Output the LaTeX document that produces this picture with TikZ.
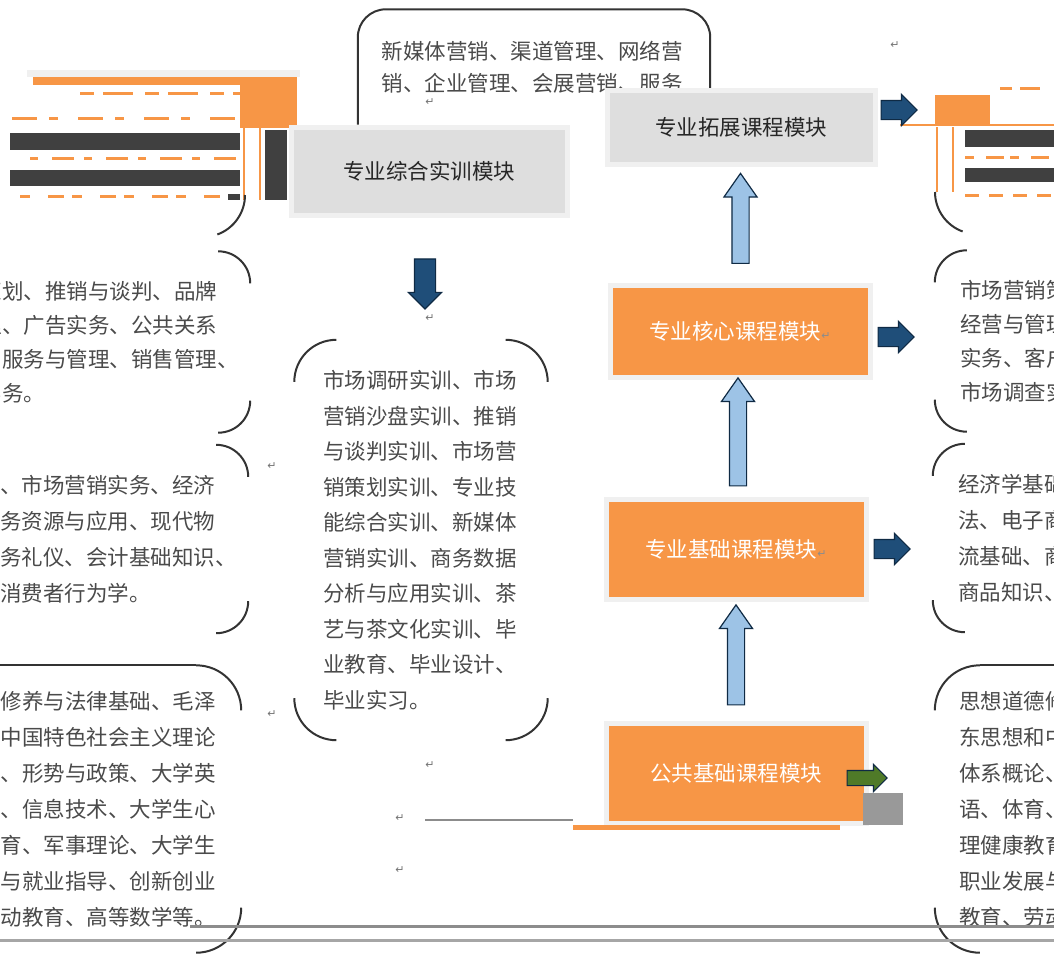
\documentclass[tikz,border=0pt]{standalone}
\usepackage{fontspec}
\setmainfont{Noto Sans CJK SC}
\newfontfamily\markfont{DejaVu Sans}
\usepackage{tikz}
\usetikzlibrary{shapes.arrows, positioning, calc, shadows}
\definecolor{modOrange}{HTML}{F79646}
\definecolor{modFrame}{HTML}{F0F0F0}
\definecolor{modShadow}{HTML}{D9A784}
\definecolor{modGrey}{HTML}{DEDEDE}
\definecolor{modNavy}{HTML}{1F4E79}
\definecolor{modNavyEdge}{HTML}{0F2A44}
\definecolor{modSky}{HTML}{9DC3E6}
\definecolor{modOlive}{HTML}{4F7A28}
\definecolor{modBar}{HTML}{404040}
\definecolor{modInk}{HTML}{4A4A4A}
\tikzset{
  mod/box/.style      = {draw=modFrame, line width=5pt, align=center, inner sep=0pt,
                         font=\fontsize{21.5}{26}\selectfont},
  mod/course/.style   = {mod/box, fill=modOrange, text=white, minimum width=260pt,
                         minimum height=98pt,
                         drop shadow={shadow xshift=3pt, shadow yshift=-3pt, fill=modShadow, opacity=1}},
  mod/practice/.style = {mod/box, fill=modGrey, text=black!85},
  mod/list/.style     = {align=left, inner sep=0pt, text=modInk,
                         font=\fontsize{21.5}{35.5}\selectfont},
  mod/frame/.style    = {line width=2pt, draw=black!80},
  mod/up/.style       = {single arrow, shape border rotate=90, draw=modNavyEdge, fill=modSky,
                         line width=1.2pt, inner sep=8pt, minimum width=32pt,
                         single arrow head extend=8pt, single arrow tip angle=70},
  mod/push/.style     = {single arrow, draw=modNavyEdge, fill=modNavy, line width=1.2pt,
                         inner sep=9pt, minimum width=30pt, minimum height=36pt,
                         single arrow head extend=6pt, single arrow tip angle=90},
  mod/para/.style     = {font=\markfont\fontsize{11}{11}\selectfont, text=black!55, inner sep=0pt},
}
\newcommand\modcorners[2]{%
  \draw[mod/frame] ([yshift=-#2]#1.north west) arc[start angle=180, end angle=90, radius=#2];
  \draw[mod/frame] ([xshift=-#2]#1.north east) arc[start angle=90, end angle=0, radius=#2];
  \draw[mod/frame] ([yshift=#2]#1.south east) arc[start angle=0, end angle=-90, radius=#2];
  \draw[mod/frame] ([xshift=#2]#1.south west) arc[start angle=270, end angle=180, radius=#2];
}
\newcommand\pmark{{\color{black!45}\markfont\fontsize{11}{11}\selectfont ↵}}

\begin{document}
\begin{tikzpicture}[x=1pt, y=-1pt]
  \useasboundingbox (0,0) rectangle (1054,954);
  \clip (0,0) rectangle (1054,954);

  % garbled blocks at the top corners
  \fill[modFrame] (27,70) rectangle (300,77);
  \fill[modOrange] (33,77) rectangle (297,85);
  \fill[modOrange] (240,77) rectangle (297,128);
  \fill[modBar] (10,133) rectangle (240,150);
  \fill[modBar] (10,170) rectangle (240,186);
  \fill[modBar] (265,130) rectangle (287,200);
  \fill[modBar] (228,194) rectangle (240,200);
  \draw[modOrange, line width=2pt] (244,128) -- (244,200) (260,128) -- (260,200);
  \draw[modOrange, line width=3pt, dash pattern=on 14pt off 9pt on 30pt off 12pt] (80,93) -- (240,93);
  \draw[modOrange, line width=3pt, dash pattern=on 25pt off 12pt on 9pt off 20pt] (12,118) -- (240,118);
  \draw[modOrange, line width=3pt, dash pattern=on 8pt off 14pt on 22pt off 10pt] (30,158) -- (240,158);
  \draw[modOrange, line width=3pt, dash pattern=on 10pt off 18pt on 16pt off 8pt] (20,196) -- (220,196);
  \draw[mod/frame] (245,195) arc[start angle=0, end angle=-70, radius=42pt];
  \fill[modOrange] (935,95) rectangle (990,125);
  \draw[modOrange, line width=2pt] (900,125) -- (1054,125);
  \draw[modOrange, line width=2pt] (937,127) -- (937,192) (953,127) -- (953,192);
  \fill[modBar] (965,130) rectangle (1054,147);
  \fill[modBar] (965,168) rectangle (1054,182);
  \draw[modOrange, line width=3pt, dash pattern=on 12pt off 8pt on 20pt off 14pt] (1000,88) -- (1054,88);
  \draw[modOrange, line width=3pt, dash pattern=on 9pt off 12pt on 18pt off 6pt] (965,157) -- (1054,157);
  \draw[modOrange, line width=3pt, dash pattern=on 14pt off 10pt] (965,195) -- (1054,195);
  \draw[mod/frame] (935,192) arc[start angle=180, end angle=250, radius=42pt];

  % extension courses, top
  \node[mod/list, minimum width=352pt, minimum height=115pt, text width=305pt,
        font=\fontsize{21.5}{32}\selectfont] (topnote) at (534,67)
       {新媒体营销、渠道管理、网络营\\销、企业管理、会展营销、服务};
  \draw[mod/frame, rounded corners=28pt] (topnote.south west) |- (topnote.north east) -- (topnote.south east);

  % module column
  \node[mod/practice, minimum width=268pt, minimum height=74pt] (tuozhan) at (741,127) {专业拓展课程模块};
  \node[mod/course, minimum height=92pt] (hexin) at (740,331) {专业核心课程模块\pmark};
  \node[mod/course, minimum height=100pt] (jichu) at (736,549) {专业基础课程模块\pmark};
  \node[mod/course, minimum height=100pt] (gonggong) at (736,773) {公共基础课程模块};
  \node[mod/practice, minimum width=276pt, minimum height=88pt] (zonghe) at (429,171) {专业综合实训模块};

  % practice list
  \node[mod/list, minimum width=253pt, minimum height=400pt, text width=196pt] (shixun) at (421,540)
       {市场调研实训、市场\\营销沙盘实训、推销\\与谈判实训、市场营\\销策划实训、专业技\\能综合实训、新媒体\\
        营销实训、商务数据\\分析与应用实训、茶\\艺与茶文化实训、毕\\业教育、毕业设计、\\毕业实习。};
  \modcorners{shixun}{42pt}

  % side lists, core courses
  \node[mod/list, minimum width=380pt, minimum height=181pt, text width=330pt, font=\fontsize{21.5}{34}\selectfont] (hexinL) at (60,342)
       {市场营销策划、推销与谈判、品牌\\经营与管理、广告实务、公共关系\\实务、客户服务与管理、销售管理、\\市场调查实务。};
  \modcorners{hexinL}{32pt}
  \node[mod/list, minimum width=380pt, minimum height=181pt, text width=330pt, font=\fontsize{21.5}{34}\selectfont] (hexinR) at (1125,341)
       {市场营销策划、推销与谈判、品牌\\经营与管理、广告实务、公共关系\\实务、客户服务与管理、销售管理、\\市场调查实务。};
  \modcorners{hexinR}{32pt}

  % side lists, basic courses
  \node[mod/list, minimum width=380pt, minimum height=188pt, text width=330pt, font=\fontsize{21.5}{36}\selectfont] (jichuL) at (58,539)
       {经济学基础、市场营销实务、经济\\法、电子商务资源与应用、现代物\\流基础、商务礼仪、会计基础知识、\\商品知识、消费者行为学。};
  \modcorners{jichuL}{32pt}
  \node[mod/list, minimum width=380pt, minimum height=188pt, text width=330pt, font=\fontsize{21.5}{36}\selectfont] (jichuR) at (1123,538)
       {经济学基础、市场营销实务、经济\\法、电子商务资源与应用、现代物\\流基础、商务礼仪、会计基础知识、\\商品知识、消费者行为学。};
  \modcorners{jichuR}{32pt}

  % side lists, public courses
  \node[mod/list, minimum width=350pt, minimum height=287pt, text width=302pt, font=\fontsize{21.5}{36}\selectfont] (gonggongL) at (66,809)
       {思想道德修养与法律基础、毛泽\\东思想和中国特色社会主义理论\\体系概论、形势与政策、大学英\\语、体育、信息技术、大学生心\\理健康教育、军事理论、大学生\\职业发展与就业指导、创新创业\\教育、劳动教育、高等数学等。};
  \modcorners{gonggongL}{45pt}
  \draw[mod/frame] ([xshift=45pt]gonggongL.north west) -- ([xshift=-45pt]gonggongL.north east);
  \node[mod/list, minimum width=350pt, minimum height=287pt, text width=302pt, font=\fontsize{21.5}{36}\selectfont] (gonggongR) at (1110,809)
       {思想道德修养与法律基础、毛泽\\东思想和中国特色社会主义理论\\体系概论、形势与政策、大学英\\语、体育、信息技术、大学生心\\理健康教育、军事理论、大学生\\职业发展与就业指导、创新创业\\教育、劳动教育、高等数学等。};
  \modcorners{gonggongR}{45pt}
  \draw[mod/frame] ([xshift=45pt]gonggongR.north west) -- ([xshift=-45pt]gonggongR.north east);

  % arrows
  \node[mod/up, minimum height=90pt]  (up1) at ($(hexin.north)!.5!(tuozhan.south)$) {};
  \node[mod/up, minimum height=108pt] (up2) at ($(jichu.north)!.5!(hexin.south)$) {};
  \node[mod/up, minimum height=100pt] (up3) at ($(gonggong.north)!.5!(jichu.south)$) {};
  \node[mod/push, anchor=west] (out1) at ([xshift=3pt, yshift=17pt]tuozhan.east) {};
  \node[mod/push, anchor=west] (out2) at ([xshift=5pt, yshift=-6pt]hexin.east) {};
  \node[mod/push, anchor=west] (out3) at ([xshift=5pt]jichu.east) {};
  \node[mod/push, anchor=west, fill=modOlive, inner sep=7pt, minimum height=40pt, minimum width=26pt] (out4)
       at ([xshift=-22pt, yshift=-5pt]gonggong.east) {};
  \node[mod/push, shape border rotate=270, inner sep=10pt, minimum height=50pt, minimum width=32pt] (down1)
       at ($(zonghe.south)!.5!(shixun.north)$) {};

  % leftovers round the public module
  \fill[black!40] (863,793) rectangle (903,825);
  \fill[modOrange] (573,825) rectangle (840,830);
  \draw[black!45, line width=1.5pt] (425,820) -- (573,820);
  \draw[black!45, line width=3pt] (190,926) -- (1054,926);
  \draw[black!35, line width=3pt] (0,940) -- (1054,940);

  % paragraph marks
  \node[mod/para] (pm1) at (895,45) {↵};
  \node[mod/para] (pm2) at (430,318) {↵};
  \node[mod/para] (pm3) at (430,765) {↵};
  \node[mod/para] (pm4) at (400,818) {↵};
  \node[mod/para] (pm5) at (400,870) {↵};
  \node[mod/para] (pm6) at (272,466) {↵};
  \node[mod/para] (pm7) at (272,714) {↵};
  \node[mod/para] (pm8) at (430,102) {↵};
\end{tikzpicture}
\end{document}
